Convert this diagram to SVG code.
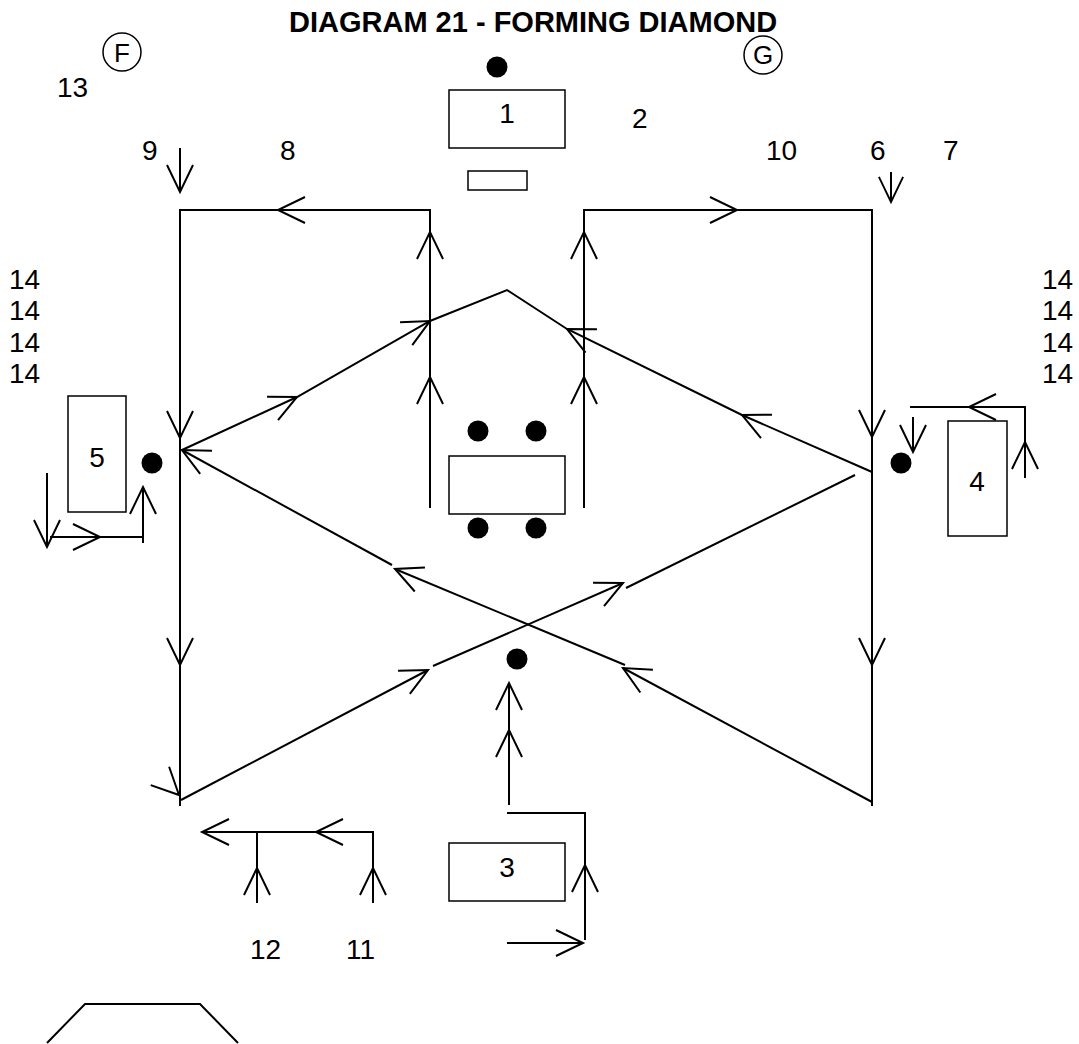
<svg xmlns="http://www.w3.org/2000/svg" xmlns:xlink="http://www.w3.org/1999/xlink" width="1079" height="1044" viewBox="0 0 1079 1044">
<style>
text{font-family:"Liberation Sans",Arial,sans-serif;font-size:28px;fill:#000}
.title{font-weight:bold;font-size:29px}
.c{text-anchor:middle}
.box{fill:#fff;stroke:#000;stroke-width:1.5}
.ln{fill:none;stroke:#000;stroke-width:2}
.dot{fill:#000}
</style>
<defs>
<path id="ah" d="M-27,-13 L0,0 L-27,13" fill="none" stroke="#000" stroke-width="2"/>
</defs>
<rect width="1079" height="1044" fill="#fff"/>
<text class="title" x="289" y="32">DIAGRAM 21 - FORMING DIAMOND</text>

<g id="labels">
<text x="57" y="97">13</text>
<text x="142" y="160">9</text>
<text x="280" y="160">8</text>
<text x="632" y="128">2</text>
<text x="766" y="160">10</text>
<text x="870" y="160">6</text>
<text x="943" y="160">7</text>
<text x="250" y="959">12</text>
<text x="346" y="959">11</text>
<text x="9" y="289">14</text>
<text x="9" y="320">14</text>
<text x="9" y="352">14</text>
<text x="9" y="383">14</text>
<text x="1042" y="289">14</text>
<text x="1042" y="320">14</text>
<text x="1042" y="352">14</text>
<text x="1042" y="383">14</text>
</g>

<g id="nodeF"><circle cx="122" cy="52" r="19" fill="none" stroke="#000" stroke-width="1.5"/><text class="c" x="122" y="62" style="font-size:26px">F</text></g>
<g id="nodeG"><circle cx="763" cy="55" r="19" fill="none" stroke="#000" stroke-width="1.5"/><text class="c" x="763" y="64" style="font-size:26px">G</text></g>

<g id="node1">
<circle class="dot" cx="497" cy="67" r="10.5"/>
<rect class="box" x="449" y="90" width="116" height="58"/>
<text class="c" x="507" y="123">1</text>
<rect class="box" x="468" y="171" width="59" height="19"/>
</g>

<g id="table">
<rect class="box" x="449" y="456" width="116" height="58"/>
<circle class="dot" cx="478" cy="431" r="10.5"/>
<circle class="dot" cx="536" cy="431" r="10.5"/>
<circle class="dot" cx="478" cy="528" r="10.5"/>
<circle class="dot" cx="536" cy="528" r="10.5"/>
</g>

<g id="node5">
<rect class="box" x="68" y="396" width="58" height="116"/>
<text class="c" x="97" y="467">5</text>
<circle class="dot" cx="152" cy="463" r="10.5"/>
</g>

<g id="node4">
<rect class="box" x="948" y="421" width="59" height="115"/>
<text class="c" x="977" y="491">4</text>
<circle class="dot" cx="901" cy="463" r="10.5"/>
</g>

<g id="node3">
<rect class="box" x="449" y="843" width="116" height="58"/>
<text class="c" x="507" y="877">3</text>
<circle class="dot" cx="517" cy="659" r="10.5"/>
</g>

<g id="connectors">
<polyline class="ln" points="430,508 430,210 180,210 180,806"/>
<polyline class="ln" points="584,508 584,210 872,210 872,806"/>
<line class="ln" x1="180" y1="148" x2="180" y2="192"/>
<line class="ln" x1="891" y1="172" x2="891" y2="202"/>
<polyline class="ln" points="182,450 297,397 430,321 507,290 567,329 742,415 872,472"/>
<line class="ln" x1="181" y1="800" x2="428" y2="670"/>
<line class="ln" x1="433" y1="666" x2="623" y2="583"/>
<line class="ln" x1="626" y1="588" x2="855" y2="475"/>
<line class="ln" x1="872" y1="802" x2="623" y2="668"/>
<line class="ln" x1="625" y1="665" x2="395" y2="569"/>
<line class="ln" x1="392" y1="565" x2="182" y2="450"/>
<line class="ln" x1="509" y1="805" x2="509" y2="683"/>
<polyline class="ln" points="507,813 585,813 585,940"/>
<line class="ln" x1="507" y1="943" x2="583" y2="943"/>
<polyline class="ln" points="202,832 373,832 373,903"/>
<line class="ln" x1="257" y1="832" x2="257" y2="903"/>
<line class="ln" x1="47" y1="473" x2="47" y2="547"/>
<line class="ln" x1="50" y1="537" x2="143" y2="537"/>
<line class="ln" x1="143" y1="543" x2="143" y2="487"/>
<polyline class="ln" points="910,407 1025,407 1025,478"/>
<line class="ln" x1="913" y1="417" x2="913" y2="452"/>
<polyline class="ln" points="47,1043 85,1004 200,1004 238,1043"/>

<use xlink:href="#ah" transform="translate(180,192) rotate(90)"/>
<use xlink:href="#ah" transform="translate(891,202) rotate(90) scale(0.93)"/>
<use xlink:href="#ah" transform="translate(278,210) rotate(180)"/>
<use xlink:href="#ah" transform="translate(737,210)"/>
<use xlink:href="#ah" transform="translate(430,232) rotate(-90)"/>
<use xlink:href="#ah" transform="translate(430,377) rotate(-90)"/>
<use xlink:href="#ah" transform="translate(584,232) rotate(-90)"/>
<use xlink:href="#ah" transform="translate(584,377) rotate(-90)"/>
<use xlink:href="#ah" transform="translate(180,438) rotate(90)"/>
<use xlink:href="#ah" transform="translate(180,665) rotate(90)"/>
<use xlink:href="#ah" transform="translate(872,437) rotate(90)"/>
<use xlink:href="#ah" transform="translate(872,665) rotate(90)"/>
<use xlink:href="#ah" transform="translate(297,397) rotate(-25)"/>
<use xlink:href="#ah" transform="translate(430,321) rotate(-28)"/>
<use xlink:href="#ah" transform="translate(567,329) rotate(206)"/>
<use xlink:href="#ah" transform="translate(742,415) rotate(205)"/>
<use xlink:href="#ah" transform="translate(182,450) rotate(207)"/>
<use xlink:href="#ah" transform="translate(428,670) rotate(-27)"/>
<use xlink:href="#ah" transform="translate(623,583) rotate(-25)"/>
<use xlink:href="#ah" transform="translate(623,668) rotate(209)"/>
<use xlink:href="#ah" transform="translate(395,569) rotate(203)"/>
<use xlink:href="#ah" transform="translate(179,795) rotate(45)"/>
<use xlink:href="#ah" transform="translate(509,683) rotate(-90)"/>
<use xlink:href="#ah" transform="translate(509,730) rotate(-90)"/>
<use xlink:href="#ah" transform="translate(585,865) rotate(-90)"/>
<use xlink:href="#ah" transform="translate(583,943)"/>
<use xlink:href="#ah" transform="translate(202,832) rotate(180)"/>
<use xlink:href="#ah" transform="translate(316,832) rotate(180)"/>
<use xlink:href="#ah" transform="translate(257,868) rotate(-90)"/>
<use xlink:href="#ah" transform="translate(373,868) rotate(-90)"/>
<use xlink:href="#ah" transform="translate(47,547) rotate(90)"/>
<use xlink:href="#ah" transform="translate(100,537)"/>
<use xlink:href="#ah" transform="translate(143,487) rotate(-90)"/>
<use xlink:href="#ah" transform="translate(969,407) rotate(180)"/>
<use xlink:href="#ah" transform="translate(1025,442) rotate(-90)"/>
<use xlink:href="#ah" transform="translate(913,452) rotate(90)"/>
</g>
</svg>
